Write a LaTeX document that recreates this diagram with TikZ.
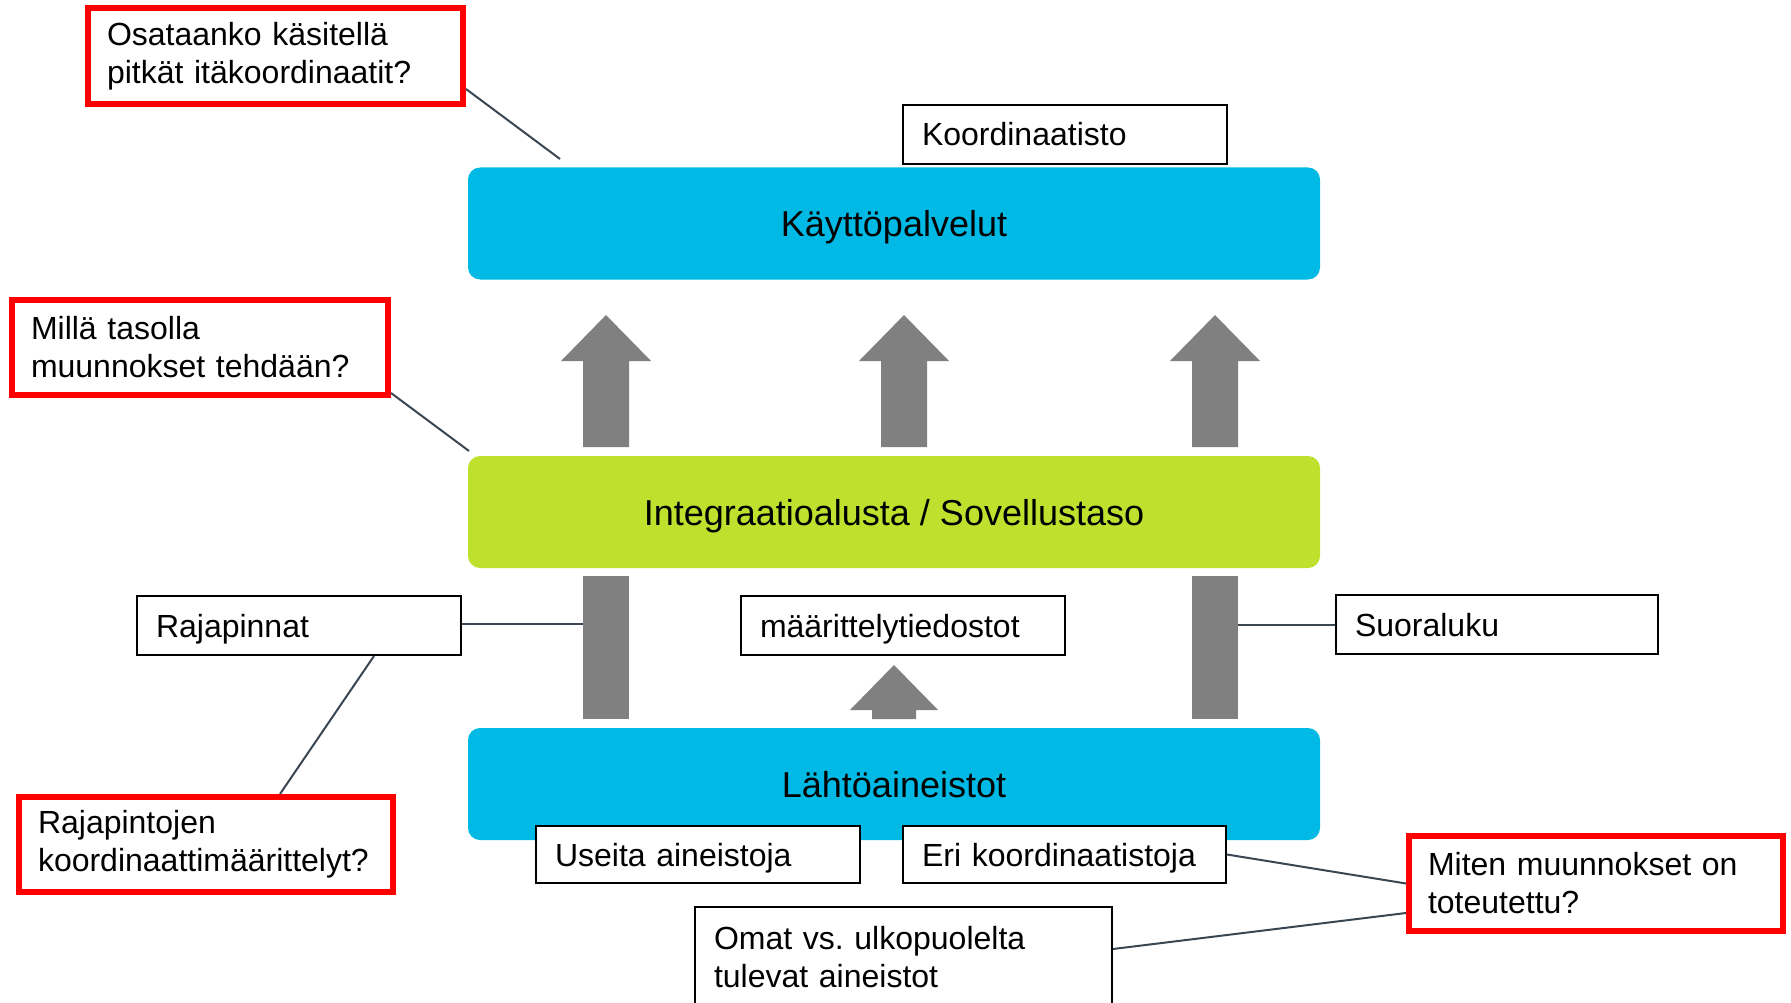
\documentclass[tikz,border=0pt]{standalone}
\usepackage{fontspec}
\setmainfont{Liberation Sans}
\usetikzlibrary{calc}
\frenchspacing

\definecolor{layerblue}{RGB}{0,186,229}
\definecolor{layergreen}{RGB}{191,225,45}
\definecolor{arrowgray}{RGB}{128,128,128}
\definecolor{linkgray}{RGB}{58,71,83}

\begin{document}
\begin{tikzpicture} [x=1pt, y=-1pt,
  layer/.style={rounded corners=12pt, inner sep=0pt, minimum width=852pt, minimum height=112pt,
    text height=26pt, text depth=0pt, font=\fontsize{36}{42}\selectfont},
  boxtext/.style={fill=white, inner xsep=19pt, inner ysep=0pt, align=left,
    font=\fontsize{32}{38}\selectfont},
  notebox/.style={boxtext, draw=black, line width=2pt, minimum height=59pt,
    text height=23pt, text depth=0pt},
  question/.style={boxtext, draw=red, line width=6pt, minimum height=95pt, text width=336pt},
  bar/.style={fill=arrowgray, inner sep=0pt, minimum width=46pt, minimum height=143pt},
  link/.style={draw=linkgray, line width=2pt}]

\useasboundingbox (0,0) rectangle (1791,1003);

% layers
\node[layer, fill=layerblue] (kaytto) at (894,223.5) {Käyttöpalvelut};
\node[layer, fill=layergreen] (integ) at (894,512) {Integraatioalusta / Sovellustaso};
\node[layer, fill=layerblue] (lahto) at (894,784) {Lähtöaineistot};

% arrows between layers
\foreach \ax in {606, 904, 1215}
 \fill[arrowgray] ({\ax-23},447) -- ({\ax-23},361) -- ({\ax-45},361) -- (\ax,315)
   -- ({\ax+45},361) -- ({\ax+23},361) -- ({\ax+23},447) -- cycle;
\fill[arrowgray] (872,719) -- (872,710) -- (850,710) -- (894,665) -- (938,710) -- (916,710) -- (916,719) -- cycle;
\node[bar] (barL) at (606,647.5) {};
\node[bar] (barR) at (1215,647.5) {};

% notes
\node[notebox, text width=286pt] (koord) at (1065,134.5) {Koordinaatisto};
\node[notebox, text width=286pt] (raja) at (299,625.5) {Rajapinnat};
\node[notebox, text width=286pt] (maar) at (903,625.5) {määrittelytiedostot};
\node[notebox, text width=284pt] (suora) at (1497,624.5) {Suoraluku};
\node[notebox, text width=286pt, minimum height=57pt] (useita) at (698,854.5) {Useita aineistoja};
\node[notebox, text width=285pt, minimum height=57pt] (eri) at (1064.5,854.5) {Eri koordinaatistoja};
\node[boxtext, draw=black, line width=2pt, text width=379pt, minimum height=100pt] (omat) at (903.5,957) {Omat vs. ulkopuolelta\\tulevat aineistot};

% questions
\node[question, text width=337pt, minimum height=96pt] (q1) at (275.5,56) {Osataanko käsitellä\\pitkät itäkoordinaatit?};
\node[question, text width=338pt] (q2) at (200,347.5) {Millä tasolla\\muunnokset tehdään?};
\node[question] (q3) at (206,844.5) {Rajapintojen\\koordinaattimäärittelyt?};
\node[question] (q4) at (1596,883.5) {Miten muunnokset on\\toteutettu?};

% connectors
\coordinate (k1) at (560,159);
\coordinate (i1) at (469,451);
\draw[link] ([yshift=-33pt]q1.east) -- (k1);
\draw[link] ([yshift=5pt]q2.south east) -- (i1);
\draw[link] ([yshift=1.5pt]raja.east) -- ([yshift=1.5pt]raja.east -| barL.west);
\draw[link] (barR.east |- suora.west) -- (suora.west);
\draw[link] ([xshift=238pt]raja.south west) -- ([xshift=264pt]q3.north west);
\draw[link] (eri.east) -- (q4.west);
\draw[link] ([yshift=8pt]omat.east) -- ([yshift=-29.5pt]q4.west);

\end{tikzpicture}
\end{document}
